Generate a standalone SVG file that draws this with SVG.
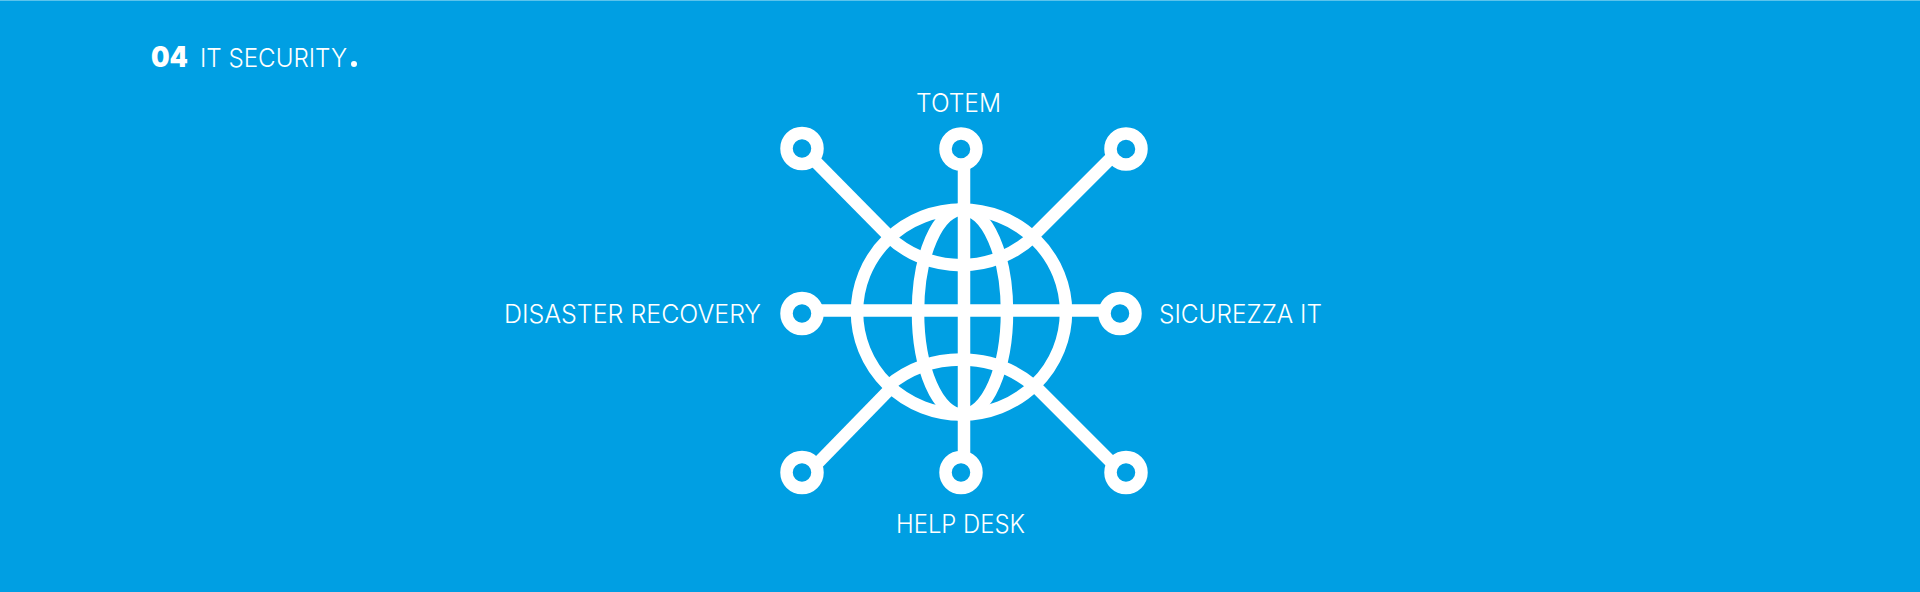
<svg xmlns="http://www.w3.org/2000/svg" width="1920" height="592" viewBox="0 0 1920 592">
<style>
.l{fill:none;stroke:#fff;stroke-width:12.5}
.n{fill:#009fe3;stroke:#fff;stroke-width:12.5}
.t{fill:#fff;font-family:"Inter","Liberation Sans",sans-serif;font-weight:300;font-size:25px}
.b{fill:#fff;font-family:"Inter","Liberation Sans",sans-serif;font-weight:900;font-size:28px}
</style>
<rect width="1920" height="592" fill="#009fe3"/>
<rect width="1920" height="1" fill="#5cc3ec"/>
<g id="title"><text class="b" x="151" y="67" textLength="37" lengthAdjust="spacingAndGlyphs">04</text><text class="t" x="200" y="67" textLength="147" lengthAdjust="spacingAndGlyphs" style="font-size:26px">IT SECURITY</text><circle cx="354" cy="64" r="3" fill="#fff"/></g>
<g id="connectors">
<line class="l" x1="964" y1="160" x2="964" y2="462"/>
<line class="l" x1="815" y1="310.5" x2="1108" y2="310.5"/>
<line class="l" x1="810" y1="156" x2="888" y2="235"/>
<line class="l" x1="1116" y1="153" x2="1030" y2="239"/>
<line class="l" x1="812" y1="469" x2="890" y2="389"/>
<line class="l" x1="1120" y1="471" x2="1034" y2="385"/>
</g>
<g id="globe">
<ellipse class="l" cx="961.5" cy="312" rx="104.5" ry="102.5"/>
<ellipse class="l" cx="962.5" cy="312" rx="44.5" ry="102.5"/>
<path class="l" d="M888 236A106 106 0 0 0 1034 236"/>
<path class="l" d="M888 386A114 114 0 0 1 1034 386"/>
</g>
<g id="node-tl"><circle class="n" cx="802" cy="148.5" r="15.5"/></g>
<g id="node-t"><circle class="n" cx="961" cy="149" r="15.5"/><text class="t" x="916" y="112" textLength="85" lengthAdjust="spacingAndGlyphs">TOTEM</text></g>
<g id="node-tr"><circle class="n" cx="1126" cy="149" r="15.5"/></g>
<g id="node-l"><circle class="n" cx="802" cy="313.5" r="15.5"/><text class="t" x="504" y="323" textLength="257" lengthAdjust="spacingAndGlyphs">DISASTER RECOVERY</text></g>
<g id="node-r"><circle class="n" cx="1120" cy="313.5" r="15.5"/><text class="t" x="1159" y="323" textLength="163" lengthAdjust="spacingAndGlyphs">SICUREZZA IT</text></g>
<g id="node-bl"><circle class="n" cx="802" cy="472.5" r="15.5"/></g>
<g id="node-b"><circle class="n" cx="961" cy="472.5" r="15.5"/><text class="t" x="896" y="533" textLength="129" lengthAdjust="spacingAndGlyphs">HELP DESK</text></g>
<g id="node-br"><circle class="n" cx="1126" cy="472.5" r="15.5"/></g>
</svg>
